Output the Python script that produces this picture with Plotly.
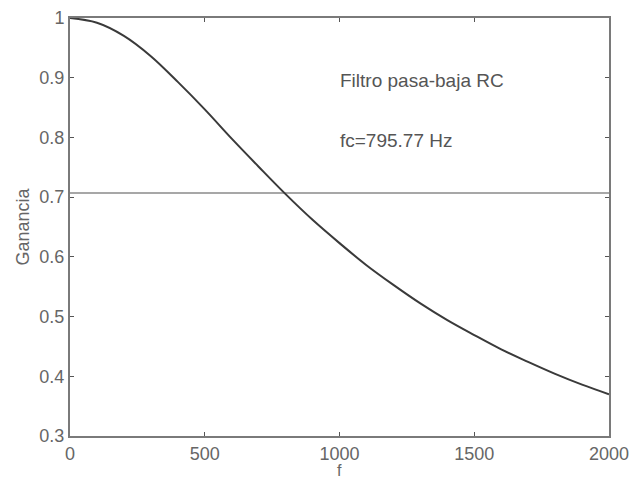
import plotly.graph_objects as go

freq = [0, 100, 200, 300, 400, 500, 600, 700, 800, 900, 1000,
        1100, 1200, 1300, 1400, 1500, 1600, 1700, 1800, 1900, 2000]
gain = [1.000, 0.992, 0.970, 0.936, 0.893, 0.847, 0.798, 0.751, 0.705, 0.662, 0.623,
        0.586, 0.553, 0.522, 0.494, 0.469, 0.445, 0.424, 0.404, 0.386, 0.370]
cut_x = [0, 2000]
cut_y = [0.7071, 0.7071]
x_ticks = [0, 500, 1000, 1500, 2000]
y_ticks = [0.3, 0.4, 0.5, 0.6, 0.7, 0.8, 0.9, 1.0]
y_labels = ["0.3", "0.4", "0.5", "0.6", "0.7", "0.8", "0.9", "1"]

FONT = "Liberation Sans, Arial, sans-serif"

fig = go.Figure()
fig.add_trace(go.Scatter(x=cut_x, y=cut_y, mode="lines",
                         line=dict(color="#8a8a8a", width=1.5), showlegend=False))
fig.add_trace(go.Scatter(x=freq, y=gain, mode="lines", line_shape="spline",
                         line=dict(color="#3a3a3a", width=2), showlegend=False))

axis_common = dict(showgrid=False, zeroline=False, showline=True, linecolor="#7a7a7a",
                   linewidth=2, mirror="ticks", ticks="inside", ticklen=4,
                   tickcolor="#555", automargin=False,
                   tickfont=dict(family=FONT, size=18, color="#666"))
fig.update_xaxes(range=[0, 2000], tickvals=x_ticks, **axis_common)
fig.update_yaxes(range=[0.3, 1.0], tickvals=y_ticks, ticktext=y_labels,
                 title=dict(text="Ganancia", font=dict(family=FONT, size=18, color="#666"), standoff=5),
                 **axis_common)

fig.add_annotation(x=0.5, y=-0.083, xref="paper", yref="paper", text="f", showarrow=False,
                   xanchor="center", yanchor="middle",
                   font=dict(family=FONT, size=16, color="#666"))
fig.add_annotation(x=995, y=0.896, text="Filtro pasa-baja RC", showarrow=False,
                   xanchor="left", font=dict(family=FONT, size=19, color="#555"))
fig.add_annotation(x=995, y=0.795, text="fc=795.77 Hz", showarrow=False,
                   xanchor="left", font=dict(family=FONT, size=19, color="#555"))

fig.update_layout(width=632, height=480, margin=dict(l=70, r=23, t=18, b=44),
                  plot_bgcolor="white", paper_bgcolor="white")
fig.write_html("out.html", config={"displayModeBar": False},
               post_script="document.body.style.margin='0';document.body.style.overflow='hidden';")
